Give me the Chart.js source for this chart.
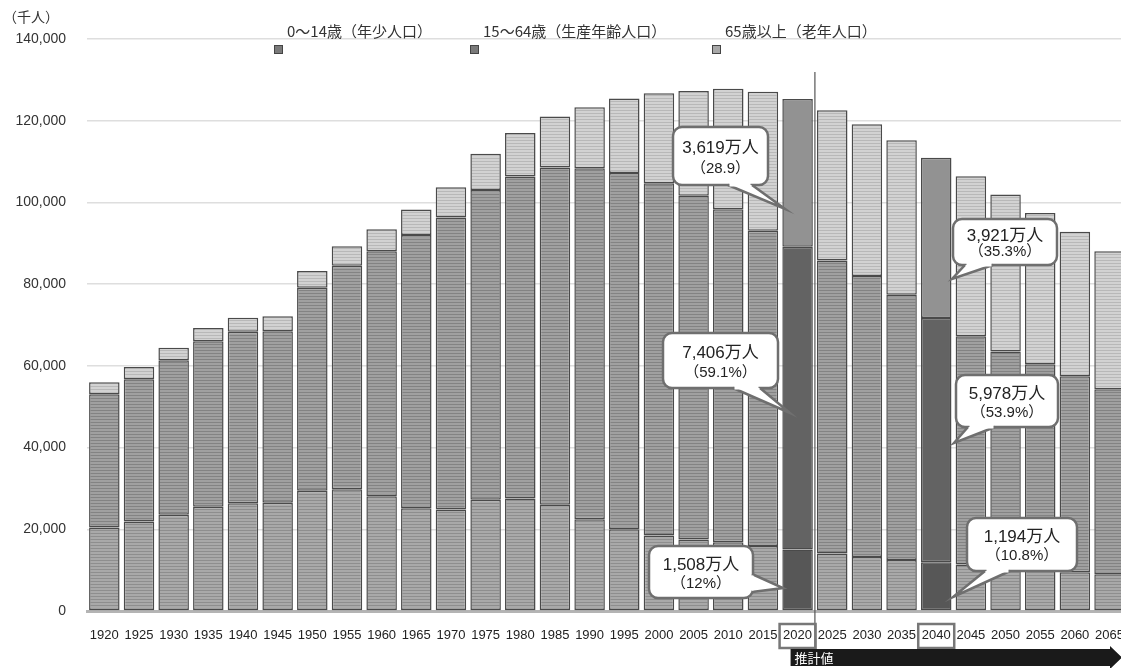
<!DOCTYPE html>
<html><head><meta charset="utf-8">
<script src="https://cdn.jsdelivr.net/npm/chart.js@4.4.1/dist/chart.umd.min.js"></script>
<style>
html,body{margin:0;padding:0;background:#fff;overflow:hidden;width:1121px;height:668px}
#wrap{width:1141px;height:668px;position:relative}
</style>
</head><body>
<div id="wrap"><canvas id="c" width="1141" height="668"></canvas></div>
<script>
// ---- data (thousands of people) ----
const years = ['1920','1925','1930','1935','1940','1945','1950','1955','1960','1965','1970','1975','1980','1985','1990','1995','2000','2005','2010','2015','2020','2025','2030','2035','2040','2045','2050','2055','2060','2065'];
const young   = [20416,21924,23579,25545,26369,26477,29430,29798,28067,25166,24823,27221,27507,26033,22486,20014,18472,17521,16803,15887,15080,14073,13212,12457,11940,11384,10767,10123,9508,8975];
const working = [32605,34792,37807,40484,41960,41970,49660,54692,59954,66873,71504,75807,78835,82506,85904,87165,86220,84092,81500,77200,74060,71701,68753,64942,59777,55845,52750,50276,47928,45291];
const elderly = [2942,3021,3064,3225,3454,3700,4110,4786,5398,6236,7393,8865,10647,12468,14895,18261,22005,25672,29500,34000,36190,36771,37160,37817,39206,39192,38406,37042,35403,33810];
const yTickValues = [0,20000,40000,60000,80000,100000,120000,140000];
const highlightYears = ['2020','2040'];
const seriesNames = ['0〜14歳（年少人口）','15〜64歳（生産年齢人口）','65歳以上（老年人口）'];
const unitLabel = '（千人）';
const projectionLabel = '推計値';
const callouts = [
  {t1:'3,619万人', t2:'（28.9）',   box:[673,127,95,58],  base:[728,185,752,185], tip:[785,209]},
  {t1:'7,406万人', t2:'（59.1%）',  box:[663,333,115,55], base:[733,388,760,388], tip:[790,413]},
  {t1:'1,508万人', t2:'（12%）',    box:[649,546,104,52], base:[752,574,752,592], tip:[783,588]},
  {t1:'3,921万人', t2:'（35.3%）',  box:[953,219,104,46], base:[965,265,993,265], tip:[952,279]},
  {t1:'5,978万人', t2:'（53.9%）',  box:[956,375,102,52], base:[968,427,995,427], tip:[954,443]},
  {t1:'1,194万人', t2:'（10.8%）',  box:[967,518,110,53], base:[985,571,1010,571], tip:[953,597]}
];

const FONT = "'Liberation Sans','Noto Sans CJK JP',Arial,sans-serif";
const JFONT = "'Noto Sans CJK JP','Liberation Sans',sans-serif";

function stripe(base, line, period){
  const c = document.createElement('canvas'); c.width = 4; c.height = period;
  const x = c.getContext('2d');
  x.fillStyle = base; x.fillRect(0,0,4,period);
  x.fillStyle = line; x.fillRect(0,period-1,4,1);
  return x.createPattern(c,'repeat');
}
const pYoung = stripe('#a9a9a9','#8e8e8e',3);
const pWork  = stripe('#a0a0a0','#838383',3);
const pOld   = stripe('#d2d2d2','#b8b8b8',3);
const hiColors = ['#575757','#636363','#929292'];
const pats = [pYoung,pWork,pOld];

function bg(i){
  return (ctx)=> highlightYears.includes(years[ctx.dataIndex]) ? hiColors[i] : pats[i];
}

const overlay = {
  id:'overlay',
  afterDatasetsDraw(chart){
    const ctx = chart.ctx, xs = chart.scales.x;
    const cw = xs.getPixelForValue(1) - xs.getPixelForValue(0);
    ctx.save();
    const xd = xs.getPixelForValue(years.indexOf('2020')) + cw/2;
    ctx.strokeStyle = '#555'; ctx.lineWidth = 1.2;
    ctx.beginPath(); ctx.moveTo(xd, 72); ctx.lineTo(xd, 650); ctx.stroke();
    ctx.strokeStyle = '#777'; ctx.lineWidth = 2.5;
    highlightYears.forEach(y=>{
      const cx = xs.getPixelForValue(years.indexOf(y));
      ctx.strokeRect(cx-18, 624, 36, 24);
    });
    const ax0 = xs.getPixelForValue(years.indexOf('2020')) - 7;
    ctx.fillStyle = '#1a1a1a';
    ctx.beginPath();
    ctx.moveTo(ax0, 649); ctx.lineTo(1110, 649); ctx.lineTo(1110, 646);
    ctx.lineTo(1122, 657.5); ctx.lineTo(1110, 669); ctx.lineTo(1110, 666); ctx.lineTo(ax0, 666);
    ctx.closePath(); ctx.fill();
    ctx.fillStyle = '#fff'; ctx.font = '13px ' + JFONT; ctx.textBaseline = 'middle'; ctx.textAlign = 'left';
    ctx.fillText(projectionLabel, ax0+4, 658);
    callouts.forEach(c=>{
      const [bx,by,bw,bh] = c.box;
      ctx.lineWidth = 2.5; ctx.strokeStyle = '#6f6f6f'; ctx.fillStyle = '#fff';
      ctx.beginPath(); ctx.roundRect(bx,by,bw,bh,9); ctx.fill(); ctx.stroke();
      ctx.beginPath();
      ctx.moveTo(c.base[0],c.base[1]); ctx.lineTo(c.tip[0],c.tip[1]); ctx.lineTo(c.base[2],c.base[3]);
      ctx.closePath(); ctx.fill();
      ctx.beginPath();
      ctx.moveTo(c.base[0],c.base[1]); ctx.lineTo(c.tip[0],c.tip[1]); ctx.lineTo(c.base[2],c.base[3]);
      ctx.stroke();
      const vert = c.base[0]===c.base[2];
      ctx.fillStyle='#fff';
      if (vert) ctx.fillRect(c.base[0]-3, c.base[1]+1.5, 4.5, c.base[3]-c.base[1]-3);
      else ctx.fillRect(c.base[0]+1.5, c.base[1]-3, c.base[2]-c.base[0]-3, 4.5);
      ctx.fillStyle = '#222'; ctx.textAlign = 'center'; ctx.textBaseline = 'middle';
      ctx.font = '17px ' + FONT;
      ctx.fillText(c.t1, bx+bw/2, by+bh*0.37);
      ctx.font = '15px ' + FONT;
      ctx.fillText(c.t2, bx+bw/2, by+bh*0.72);
    });
    ctx.restore();
  },
  afterDraw(chart){
    const ctx = chart.ctx;
    ctx.save();
    ctx.fillStyle = '#333'; ctx.font = '14px ' + JFONT; ctx.textAlign='left'; ctx.textBaseline='middle';
    ctx.fillText(unitLabel, 3, 17);
    const lx = [274, 470, 712];
    const mk = ['#7a7a7a','#7a7a7a','#a8a8a8'];
    ctx.font = '15px ' + JFONT;
    seriesNames.forEach((n,i)=>{
      ctx.fillStyle = '#333';
      ctx.fillText(n, lx[i]+13, 31);
      ctx.fillStyle = mk[i]; ctx.fillRect(lx[i], 45, 9, 9);
      ctx.strokeStyle = '#444'; ctx.lineWidth = 1; ctx.strokeRect(lx[i]+0.5, 45.5, 8, 8);
    });
    ctx.restore();
  }
};

new Chart(document.getElementById('c'), {
  type:'bar',
  data:{
    labels: years,
    datasets:[
      {label:seriesNames[0], data:young,   backgroundColor:bg(0), borderColor:'#4a4a4a', borderWidth:1.5, borderSkipped:false},
      {label:seriesNames[1], data:working, backgroundColor:bg(1), borderColor:'#4a4a4a', borderWidth:1.5, borderSkipped:false},
      {label:seriesNames[2], data:elderly, backgroundColor:bg(2), borderColor:'#4a4a4a', borderWidth:1.5, borderSkipped:false}
    ]
  },
  options:{
    responsive:false, animation:false, devicePixelRatio:1,
    layout:{padding:{top:39,left:0,right:0,bottom:0}},
    plugins:{legend:{display:false}, tooltip:{enabled:false}},
    datasets:{bar:{categoryPercentage:1, barPercentage:0.88}},
    scales:{
      x:{stacked:true,
         grid:{display:false, drawTicks:false},
         border:{display:true, color:'#b4b4b4', width:3},
         ticks:{color:'#222', font:{family:FONT, size:13}, padding:17, maxRotation:0, autoSkip:false},
         afterFit:(s)=>{s.height=57;}
      },
      y:{stacked:true, min:0, max:140000,
         afterBuildTicks:(s)=>{s.ticks = yTickValues.map(v=>({value:v}));},
         grid:{color:'#dedede', lineWidth:1.5, drawTicks:false},
         border:{display:false},
         ticks:{color:'#333', font:{family:FONT, size:14}, padding:21,
                callback:(v)=>Number(v).toLocaleString('en-US')},
         afterFit:(s)=>{s.width=87;}
      }
    }
  },
  plugins:[overlay]
});
</script>
</body></html>
